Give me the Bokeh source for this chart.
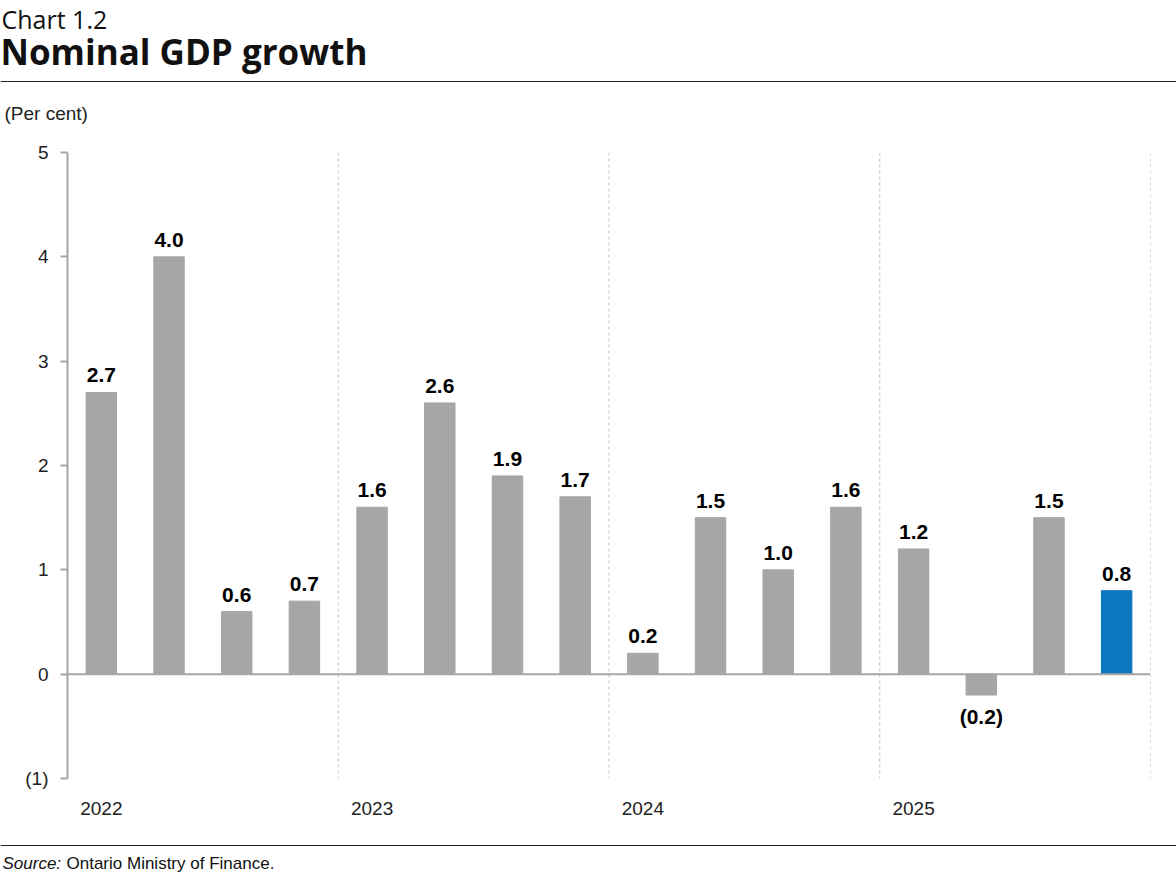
from bokeh.core.properties import value
from bokeh.embed import file_html
from bokeh.layouts import column
from bokeh.models import ColumnDataSource, FixedTicker, Range1d, Span
from bokeh.plotting import figure
from bokeh.resources import INLINE

# quarterly nominal GDP growth, per cent
years = ["2022", "2023", "2024", "2025"]
quarters = ["Q1", "Q2", "Q3", "Q4"]
growth = [2.7, 4.0, 0.6, 0.7,
          1.6, 2.6, 1.9, 1.7,
          0.2, 1.5, 1.0, 1.6,
          1.2, -0.2, 1.5, 0.8]
y_ticks = [-1, 0, 1, 2, 3, 4, 5]

GRAY = "#a6a6a6"
BLUE = "#0a77c0"
FONT = value("Liberation Sans")
W = 1176


def fmt(v):
    return f"({abs(v):.1f})" if v < 0 else f"{v:.1f}"


def blank(h):
    # plain canvas in pixel coordinates, y growing downwards
    f = figure(width=W, height=h, x_range=Range1d(0, W), y_range=Range1d(h, 0),
               toolbar_location=None, output_backend="svg", min_border=0)
    f.axis.visible = False
    f.grid.visible = False
    f.outline_line_color = None
    f.frame_align = False
    return f


n = len(growth)
xs = list(range(n))
colors = [GRAY] * (n - 1) + [BLUE]
src = ColumnDataSource(data=dict(x=xs, y=growth, color=colors))
pos = ColumnDataSource(data=dict(x=[x for x, v in zip(xs, growth) if v >= 0],
                                 y=[v for v in growth if v >= 0],
                                 label=[fmt(v) for v in growth if v >= 0]))
neg = ColumnDataSource(data=dict(x=[x for x, v in zip(xs, growth) if v < 0],
                                 y=[v for v in growth if v < 0],
                                 label=[fmt(v) for v in growth if v < 0]))

# header: chart number, title, rule, unit
head = blank(130)
head.text([1], [1], text=["Chart 1.2"], text_font=value("Open Sans"),
          text_font_size="25px", text_baseline="top", text_color="#111111")
head.text([0], [27], text=["Nominal GDP growth"], text_font=value("Open Sans"),
          text_font_size="35px", text_font_style="bold", text_baseline="top",
          text_color="#111111")
head.segment([0], [81], [W], [81], line_color="#222222", line_width=1)
head.text([4], [113], text=["(Per cent)"], text_font=FONT,
          text_font_size="19px", text_baseline="middle", text_color="#222222")

# main chart
p = figure(width=W, height=708, x_range=Range1d(-0.5, n - 0.5), y_range=Range1d(-1, 5),
           toolbar_location=None, output_backend="svg",
           min_border_left=67, min_border_right=26, min_border_top=22, min_border_bottom=60)
p.grid.visible = False
p.outline_line_color = None
p.frame_align = False

p.vbar(x="x", top="y", bottom=0, width=0.45, color="color", source=src)

for k in range(1, len(years) + 1):
    p.add_layout(Span(location=k * len(quarters) - 0.5, dimension="height",
                      line_color="#c0c0c0", line_width=1, line_dash="3 3"))
p.add_layout(Span(location=0, dimension="width", line_color=GRAY, line_width=2))

p.text("x", "y", text="label", source=pos, text_font=FONT, text_font_size="21px",
       text_font_style="bold", text_align="center", text_baseline="bottom",
       y_offset=-10, text_color="#000000")
p.text("x", "y", text="label", source=neg, text_font=FONT, text_font_size="21px",
       text_font_style="bold", text_align="center", text_baseline="top",
       y_offset=10, text_color="#000000")

p.yaxis.ticker = FixedTicker(ticks=y_ticks)
p.yaxis.major_label_overrides = {t: fmt(t).replace(".0", "") for t in y_ticks}
p.yaxis.axis_line_color = GRAY
p.yaxis.axis_line_width = 2
p.yaxis.major_tick_line_color = GRAY
p.yaxis.major_tick_line_width = 2
p.yaxis.major_tick_in = 0
p.yaxis.major_tick_out = 7
p.yaxis.minor_tick_line_color = None
p.yaxis.major_label_standoff = 12
p.yaxis.major_label_text_font = "Liberation Sans"
p.yaxis.major_label_text_font_size = "19px"
p.yaxis.major_label_text_color = "#222222"

year_pos = [i * len(quarters) for i in range(len(years))]
p.xaxis.ticker = FixedTicker(ticks=year_pos)
p.xaxis.major_label_overrides = dict(zip(year_pos, years))
p.xaxis.axis_line_color = None
p.xaxis.major_tick_line_color = None
p.xaxis.minor_tick_line_color = None
p.xaxis.major_label_standoff = 17
p.xaxis.major_label_text_font = "Liberation Sans"
p.xaxis.major_label_text_font_size = "19px"
p.xaxis.major_label_text_color = "#222222"

# footer: rule and source
foot = blank(50)
foot.segment([0], [7], [W], [7], line_color="#222222", line_width=1)
foot.text([2], [25], text=["Source:"], text_font=FONT, text_font_size="17px",
          text_font_style="italic", text_baseline="middle", text_color="#111111")
foot.text([66], [25], text=["Ontario Ministry of Finance."], text_font=FONT,
          text_font_size="17px", text_baseline="middle", text_color="#111111")

layout = column(head, p, foot, spacing=0)
open("out.html", "w").write(file_html(layout, INLINE))
